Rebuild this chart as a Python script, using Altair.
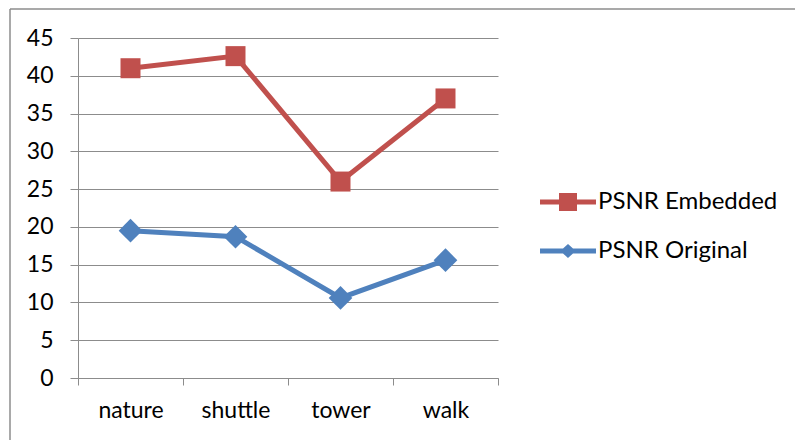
import altair as alt
import pandas as pd

# Source values
categories = ["nature", "shuttle", "tower", "walk"]
psnr_embedded = [41.0, 42.6, 26.0, 37.0]
psnr_original = [19.5, 18.7, 10.6, 15.6]

series_names = ["PSNR Embedded", "PSNR Original"]
series_colors = ["#C0504D", "#4F81BD"]
marker_shapes = ["square", "diamond"]

# Legend symbols: a line segment with the marker sitting on it
legend_paths = [
    "M-2.8,-0.24L-0.9,-0.24L-0.9,-0.9L0.9,-0.9L0.9,-0.24L2.8,-0.24L2.8,0.24L0.9,0.24L0.9,0.9L-0.9,0.9L-0.9,0.24L-2.8,0.24Z",
    "M-2.8,-0.24L-0.5,-0.24L0,-0.7L0.5,-0.24L2.8,-0.24L2.8,0.24L0.5,0.24L0,0.7L-0.5,0.24L-2.8,0.24Z",
]

rows = []
for name, vals in zip(series_names, [psnr_embedded, psnr_original]):
    for cat, v in zip(categories, vals):
        rows.append({"category": cat, "value": v, "series": name})
df = pd.DataFrame(rows)

FONT = "Lato"
GRID = "#8C8C8C"

x_enc = alt.X(
    "category:N",
    sort=categories,
    bandPosition=0.5,
    scale=alt.Scale(type="band", paddingInner=0, paddingOuter=0),
    axis=alt.Axis(
        title=None, tickBand="extent", labelAngle=0, labelFontSize=23,
        labelFont=FONT, labelColor="#000000", labelPadding=14, tickSize=7,
        tickColor=GRID, domainColor=GRID, grid=False,
    ),
)
y_enc = alt.Y(
    "value:Q",
    scale=alt.Scale(domain=[0, 45], nice=False),
    axis=alt.Axis(
        title=None, values=list(range(0, 50, 5)), labelFontSize=23,
        labelFont=FONT, labelColor="#000000", labelPadding=17, tickSize=8,
        tickColor=GRID, domainColor=GRID, gridColor=GRID, grid=True,
    ),
)

color_scale = alt.Scale(domain=series_names, range=series_colors)

base = alt.Chart(df)

lines = base.mark_line(strokeWidth=5).encode(
    x=x_enc, y=y_enc,
    color=alt.Color("series:N", scale=color_scale, legend=None),
)

points = base.mark_point(filled=True, opacity=1).encode(
    x=x_enc, y=y_enc,
    color=alt.Color("series:N", scale=color_scale, legend=None),
    shape=alt.Shape("series:N", scale=alt.Scale(domain=series_names, range=marker_shapes), legend=None),
    size=alt.Size("series:N", scale=alt.Scale(domain=series_names, range=[400, 560]), legend=None),
)

legend_layer = base.transform_filter("false").mark_point(filled=True, size=400, opacity=1).encode(
    x=x_enc, y=y_enc,
    color=alt.Color(
        "series:N", scale=color_scale,
        legend=alt.Legend(
            title=None, orient="none", legendX=478, legendY=152,
            symbolSize=400, symbolStrokeWidth=0, symbolOpacity=1,
            labelFont=FONT, labelFontSize=24, labelColor="#000000",
            labelOffset=18, rowPadding=25, padding=0, labelLimit=0,
        ),
    ),
    shape=alt.Shape("series:N", scale=alt.Scale(domain=series_names, range=legend_paths)),
)

frame_src = pd.DataFrame({"k": [0]})
frame_top = alt.Chart(frame_src).mark_rule(color="#8C8C8C", strokeWidth=1.5).encode(
    x=alt.value(-68), x2=alt.value(720), y=alt.value(-29)
)
frame_left = alt.Chart(frame_src).mark_rule(color="#8C8C8C", strokeWidth=1.5).encode(
    x=alt.value(-68), y=alt.value(-29), y2=alt.value(405)
)

chart = (
    alt.layer(lines, points, legend_layer, frame_top, frame_left)
    .resolve_scale(color="independent", shape="independent", size="independent")
    .properties(
        width=420, height=340,
        autosize=alt.AutoSizeParams(type="none"),
        padding={"left": 78, "top": 38, "right": 297, "bottom": 62},
        background="#FFFFFF",
    )
    .configure_view(stroke=None)
)

chart.save("out.html", embed_options={"renderer": "svg", "actions": False})
